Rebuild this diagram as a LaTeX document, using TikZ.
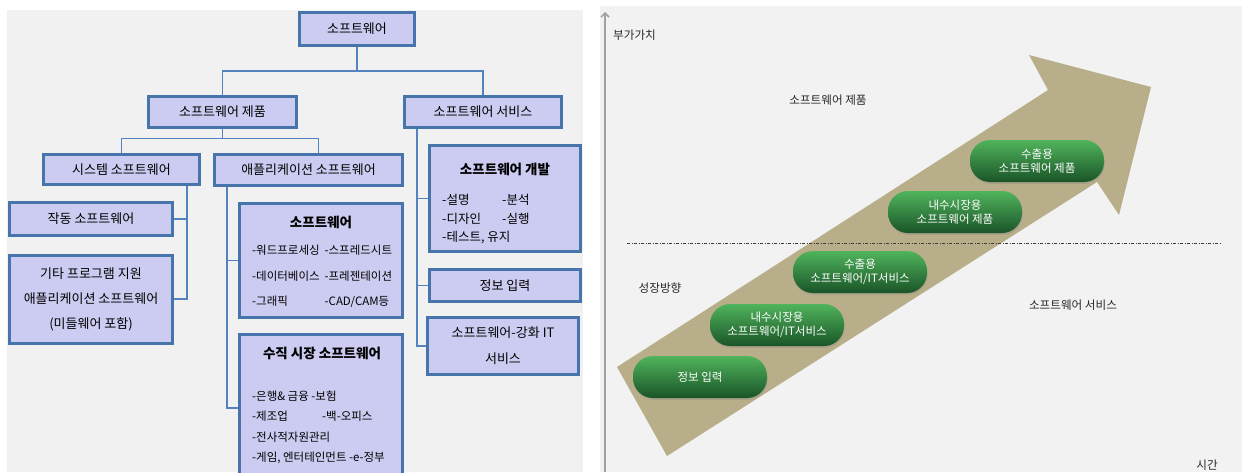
\documentclass[tikz,border=0pt]{standalone}
\usepackage{fontspec}
\setmainfont{Noto Sans CJK KR}
\usetikzlibrary{arrows.meta,calc,shadows,backgrounds}
\definecolor{bxfill}{RGB}{204,204,242}
\definecolor{bxline}{RGB}{72,116,172}
\definecolor{cn}{RGB}{84,130,190}
\definecolor{bgL}{RGB}{241,241,241}
\definecolor{bgR}{RGB}{242,242,242}
\definecolor{khaki}{RGB}{184,175,138}
\definecolor{gtop}{RGB}{80,180,92}
\definecolor{gbot}{RGB}{26,84,40}
\definecolor{txt}{RGB}{40,40,40}
\definecolor{axisgray}{RGB}{160,160,160}
\definecolor{divgray}{RGB}{60,60,60}
\tikzset{
  bx/.style={draw=bxline, line width=3pt, fill=bxfill, inner sep=0pt, text=black,
    font=\fontsize{13}{15}\selectfont, align=center},
  conn/.style={draw=cn, line width=1.2pt},
  ttl/.style={inner sep=0pt, anchor=base, font=\fontsize{13.5}{16}\selectfont\bfseries},
  body/.style={inner sep=0pt, anchor=base west},
  pill/.style={rectangle, rounded corners=20pt, minimum width=134pt, minimum height=42pt,
    top color=gtop, bottom color=gbot, text=white, align=center, inner sep=0pt,
    font=\fontsize{11.5}{14}\selectfont,
    drop shadow={shadow xshift=0.6pt, shadow yshift=-1.8pt, opacity=0.3}},
  lbl/.style={inner sep=0pt, text=txt, font=\fontsize{11.6}{14}\selectfont},
  axisline/.style={draw=axisgray, line width=1.5pt, -{Straight Barb[length=4pt,width=8pt]}},
  divline/.style={draw=divgray, line width=0.7pt,
    dash pattern=on 3pt off 1.5pt on 1pt off 1.5pt}
}
\begin{document}
\begin{tikzpicture}[x=1pt,y=-1pt]
\useasboundingbox (0,0) rectangle (1242,472);
\clip (0,0) rectangle (1242,472);
\begin{scope}[on background layer]
  \fill[white] (0,0) rectangle (1242,472);
  \fill[bgL] (7,10) rectangle (583,472);
  \fill[bgR] (600,6) rectangle (1242,472);
\end{scope}

% ---------- left tree ----------
\node[bx, minimum width=115pt, minimum height=33pt] (root) at (357,29) {소프트웨어};
\node[bx, minimum width=148pt, minimum height=31pt] (prod) at (222.5,112) {소프트웨어 제품};
\node[bx, minimum width=157pt, minimum height=31pt] (serv) at (483,112) {소프트웨어 서비스};
\node[bx, minimum width=156pt, minimum height=30pt] (sys) at (121.5,169.5) {시스템 소프트웨어};
\node[bx, minimum width=188pt, minimum height=31pt] (app) at (308.5,170) {애플리케이션 소프트웨어};
\node[bx, minimum width=163pt, minimum height=33pt] (op) at (91,219) {작동 소프트웨어};
\node[bx, minimum width=163pt, minimum height=88pt, font=\fontsize{13}{25}\selectfont] (etc) at (91,299)
  {기타 프로그램 지원\\애플리케이션 소프트웨어\\(미들웨어 포함)};
\node[bx, minimum width=163pt, minimum height=114pt] (sw) at (321,260.5) {};
\node[bx, minimum width=163pt, minimum height=147pt] (vert) at (321,408) {};
\node[bx, minimum width=151pt, minimum height=106pt] (dev) at (505,198.5) {};
\node[bx, minimum width=151pt, minimum height=32pt] (info) at (505,285.5) {정보 입력};
\node[bx, minimum width=151pt, minimum height=57pt, font=\fontsize{13}{26}\selectfont] (enh) at (503,346)
  {소프트웨어-강화 IT\\서비스};

% box contents
\node[ttl] (swt) at (321,227) {소프트웨어};
\node[body, font=\fontsize{11.5}{25.5}\selectfont] (swb) at (252,254.5)
  {\begin{tabular}[t]{@{}l@{\hspace{5pt}}l@{}}
   -워드프로세싱 & -스프레드시트\\
   -데이터베이스 & -프레젠테이션\\
   -그래픽 & -CAD/CAM등
   \end{tabular}};
\node[ttl] (vertt) at (322,358) {수직 시장 소프트웨어};
\node[body, font=\fontsize{11.5}{20.5}\selectfont] (vertb) at (252,400)
  {\begin{tabular}[t]{@{}l@{}}
   -은행\& 금융 -보험\\
   \makebox[70pt][l]{-제조업}-백-오피스\\
   -전사적자원관리\\
   -게임, 엔터테인먼트 -e-정부
   \end{tabular}};
\node[ttl] (devt) at (505,174) {소프트웨어 개발};
\node[body, font=\fontsize{12.5}{18.5}\selectfont] (devb) at (442,204.5)
  {\begin{tabular}[t]{@{}l@{}}
   \makebox[60pt][l]{-설명}-분석\\
   \makebox[60pt][l]{-디자인}-실행\\
   -테스트, 유지
   \end{tabular}};

% connectors
\coordinate (sv) at (187,0);
\coordinate (av) at (227,0);
\coordinate (svv) at (417,0);
\begin{scope}[on background layer]
  \draw[conn] (root.south) -- ++(0,24) -| (prod.north);
  \draw[conn] (root.south) -- ++(0,24) -| (serv.north);
  \draw[conn] (prod.south) -- ++(0,9.5) -| (sys.north);
  \draw[conn] (prod.south) -- ++(0,9.5) -| ($(app.north)+(10,0)$);
  \draw[conn] (sys.south -| sv) |- (op.east);
  \draw[conn] (sys.south -| sv) |- (etc.east);
  \draw[conn] (app.south -| av) |- (sw.west);
  \draw[conn] (app.south -| av) |- (vert.west);
  \draw[conn] (serv.south -| svv) |- (dev.west);
  \draw[conn] (serv.south -| svv) |- (info.west);
  \draw[conn] (serv.south -| svv) |- (enh.west);
\end{scope}

% ---------- right chart ----------
\coordinate (ax0) at (605,472);
\coordinate (ax1) at (605,12);
\draw[axisline] (ax0) -- (ax1);

\fill[khaki] (617,367) -- (1048,90) -- (1029,55) -- (1151,87) -- (1119,215)
  -- (1097,182) -- (667,456) -- cycle;

\coordinate (dd0) at (627,243);
\coordinate (dd1) at (1222,243);
\draw[divline] (dd0) -- (dd1);

\node[pill] (p1) at (700,377) {정보 입력};
\node[pill] (p2) at (777,325) {내수시장용\\소프트웨어/IT서비스};
\node[pill] (p3) at (860,272) {수출용\\소프트웨어/IT서비스};
\node[pill] (p4) at (955,212) {내수시장용\\소프트웨어 제품};
\node[pill] (p5) at (1037,161) {수출용\\소프트웨어 제품};

\node[lbl, anchor=west] (yl) at (613,35) {부가가치};
\node[lbl] (prodl) at (828,100) {소프트웨어 제품};
\node[lbl] (grow) at (660,288) {성장방향};
\node[lbl] (servl) at (1073,305) {소프트웨어 서비스};
\node[lbl] (xl) at (1207,465) {시간};
\end{tikzpicture}
\end{document}
